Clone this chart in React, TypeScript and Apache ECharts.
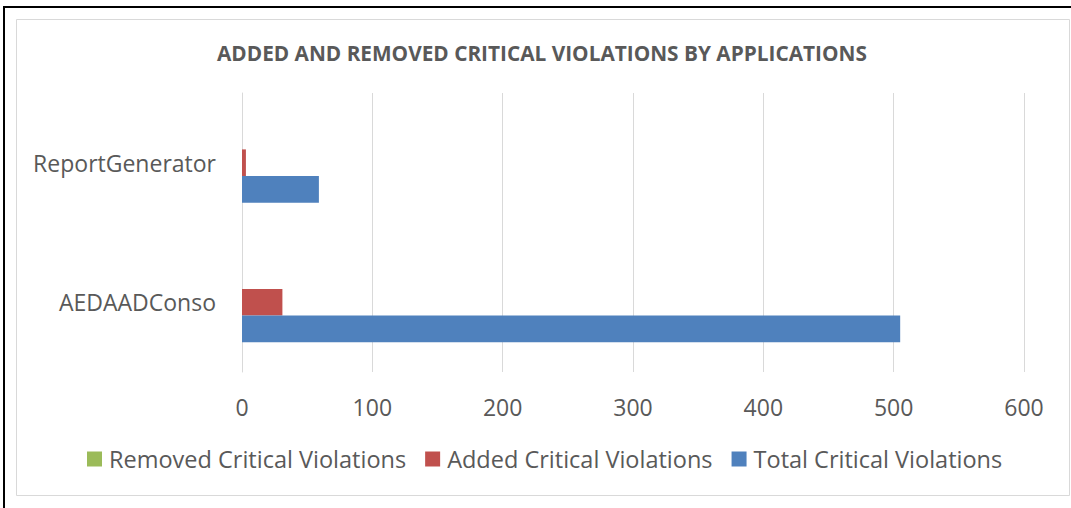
import React, { useEffect, useRef } from "react";
import * as echarts from "echarts";

const categories = ["AEDAADConso", "ReportGenerator"];
const removedValues = [0, 0];
const addedValues = [31, 3];
const totalValues = [505, 59];
const seriesNames = ["Removed Critical Violations", "Added Critical Violations", "Total Critical Violations"];
const xTicks = { min: 0, max: 600, interval: 100 };

const FONT = "'Open Sans', 'Noto Sans', sans-serif";
const TEXT = "#595959";

export default function App() {
  const ref = useRef<HTMLDivElement>(null);
  useEffect(() => {
    if (!ref.current) return;
    const chart = echarts.init(ref.current, null, { renderer: "svg" });
    chart.setOption({
      animation: false,
      backgroundColor: "#ffffff",
      title: {
        text: "ADDED AND REMOVED CRITICAL VIOLATIONS BY APPLICATIONS",
        left: 212,
        top: 37,
        textStyle: { fontFamily: FONT, fontSize: 20.8, fontWeight: "bold", color: TEXT },
      },
      graphic: [
        {
          type: "rect",
          shape: { x: 4, y: 7, width: 1090, height: 520 },
          style: { fill: "none", stroke: "#000", lineWidth: 2 },
          silent: true,
        },
        {
          type: "rect",
          shape: { x: 16.5, y: 19.5, width: 1053, height: 476 },
          style: { fill: "none", stroke: "#d9d9d9", lineWidth: 1 },
          silent: true,
        },
      ],
      legend: {
        data: seriesNames,
        bottom: 32,
        left: 82,
        icon: "rect",
        itemWidth: 15,
        itemHeight: 15,
        itemGap: 19,
        textStyle: { fontFamily: FONT, fontSize: 23.5, color: TEXT, padding: [0, 0, 0, 2] },
      },
      grid: { left: 242, right: 47, top: 93, bottom: 136, containLabel: false },
      xAxis: {
        type: "value",
        min: xTicks.min,
        max: xTicks.max,
        interval: xTicks.interval,
        axisLine: { show: false },
        axisTick: { show: false },
        splitLine: { lineStyle: { color: "#d9d9d9", width: 1 } },
        axisLabel: { fontFamily: FONT, fontSize: 23, color: TEXT, margin: 23 },
      },
      yAxis: {
        type: "category",
        data: categories,
        axisLine: { show: true, lineStyle: { color: "#d9d9d9", width: 1 } },
        axisTick: { show: false },
        axisLabel: { fontFamily: FONT, fontSize: 23, color: TEXT, margin: 26 },
      },
      series: [
        { name: seriesNames[0], type: "bar", data: removedValues, itemStyle: { color: "#9BBB59" }, barWidth: 26.7, barGap: "0%" },
        { name: seriesNames[1], type: "bar", data: addedValues, itemStyle: { color: "#C0504D" }, barWidth: 26.7, barGap: "0%" },
        { name: seriesNames[2], type: "bar", data: totalValues, itemStyle: { color: "#4F81BD" }, barWidth: 26.7, barGap: "0%" },
      ],
    });
    return () => chart.dispose();
  }, []);
  return (
    <div
      ref={ref}
      style={{ position: "absolute", left: 0, top: 0, width: 1071, height: 508 }}
    />
  );
}
